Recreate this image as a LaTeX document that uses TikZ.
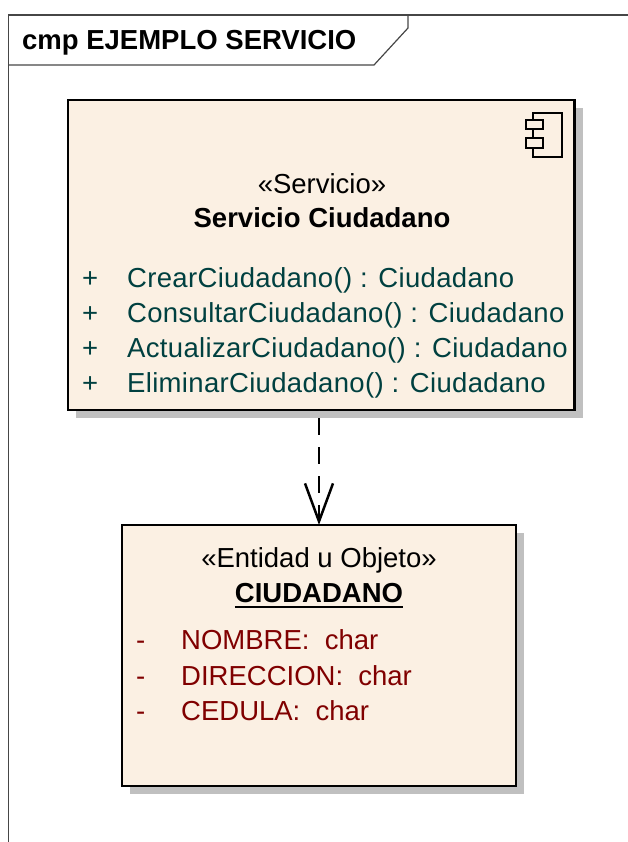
\documentclass[tikz,border=0pt]{standalone}
\usepackage{fontspec}
\setmainfont{Liberation Sans}
\usetikzlibrary{arrows.meta, positioning, calc, shadows}
\definecolor{umlfill}{RGB}{251,240,227}
\definecolor{umlshadow}{RGB}{192,192,192}
\definecolor{opcolor}{RGB}{0,64,64}
\definecolor{attrcolor}{RGB}{128,0,0}
\definecolor{framecolor}{RGB}{70,70,70}
\newcommand{\umlsize}{\fontsize{27.5}{33}\selectfont}

\begin{document}
\begin{tikzpicture}[x=1pt,y=-1pt,
    uml box/.style={draw,line width=2.6pt,fill=umlfill,inner sep=0pt,outer sep=0pt,
      drop shadow={shadow xshift=8pt,shadow yshift=-8pt,fill=umlshadow,opacity=1}},
    txt/.style={inner sep=0pt,anchor=base,font=\umlsize},
    op/.style={txt,anchor=base west,text=opcolor,font=\umlsize\addfontfeature{LetterSpace=1.2}},
    attr/.style={txt,anchor=base west,text=attrcolor},
    frame/.style={draw=framecolor,line width=1.2pt},
    dep/.style={line width=2.5pt,dash pattern=on 17pt off 12pt,
      -{Straight Barb[length=38pt,width=28pt]}}]
  \useasboundingbox (0,0) rectangle (628,842);
  \draw[frame] (8.5,842) -- (8.5,15) -- (628,15);
  \draw[frame] (8.5,65) -- (374,65) -- (408,28) -- (408,15);
  \node[txt,anchor=base west,font=\umlsize\bfseries] (t) at (22,50) {cmp EJEMPLO SERVICIO};

  \node[uml box,minimum width=506.5pt,minimum height=310pt,anchor=north west] (1) at (68,100) {};
  \node[uml box,minimum width=394pt,minimum height=261pt,anchor=north west] (2) at (122,525) {};

  \draw[line width=2pt] (533,113) rectangle (562,157);
  \draw[line width=2pt,fill=umlfill] (526,120) rectangle (543,129) (526,138) rectangle (543,148);

  \node[txt] (1s) at (322,194) {«Servicio»};
  \node[txt,font=\umlsize\bfseries] (1n) at (322,227) {Servicio Ciudadano};
  \foreach \op [count=\i] in {{CrearCiudadano() : Ciudadano},{ConsultarCiudadano() : Ciudadano},
      {ActualizarCiudadano() : Ciudadano},{EliminarCiudadano() : Ciudadano}} {
    \node[op] (1p\i) at (82,252+35*\i) {+};
    \node[op] (1o\i) at (127,252+35*\i) {\op};
  }

  \node[txt] (2s) at (319,567) {«Entidad u Objeto»};
  \node[txt,font=\umlsize\bfseries] (2n) at (319,602) {CIUDADANO};
  \draw[line width=2pt] ([yshift=-5pt]2n.base west) -- ([yshift=-5pt]2n.base east);
  \foreach \field [count=\i] in {NOMBRE,DIRECCION,CEDULA} {
    \node[attr] (2m\i) at (136,614+35.5*\i) {-};
    \node[attr] (2a\i) at (181,614+35.5*\i) {\field:\ \ char};
  }

  \draw[dep] ($(1.south -| 2.north)+(0,8)$) -- (2.north);
\end{tikzpicture}
\end{document}
